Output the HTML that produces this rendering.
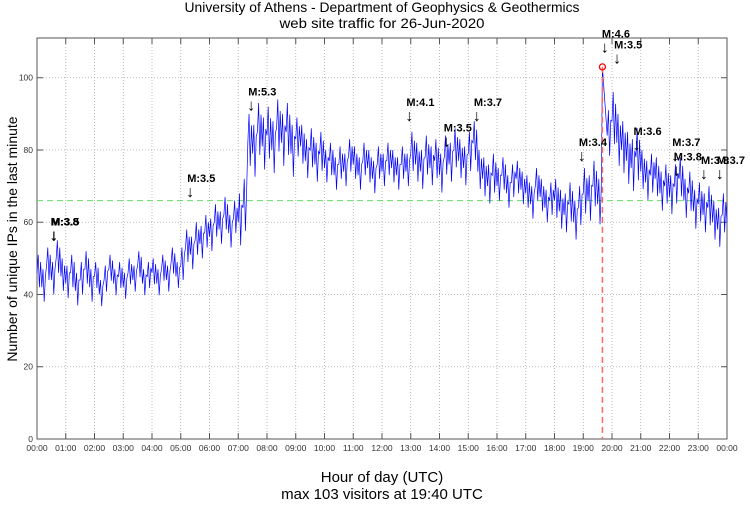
<!DOCTYPE html>
<html><head><meta charset="utf-8"><style>
html,body{margin:0;padding:0;background:#fff;}
svg text{font-family:"Liberation Sans",sans-serif;}
</style></head><body>
<svg id="chart" width="750" height="503" viewBox="0 0 750 503" xmlns="http://www.w3.org/2000/svg">
<text x="382" y="12" font-size="14" text-anchor="middle" textLength="395" lengthAdjust="spacingAndGlyphs">University of Athens - Department of Geophysics &amp; Geothermics</text>
<text x="382" y="28" font-size="14" text-anchor="middle" textLength="205" lengthAdjust="spacingAndGlyphs">web site traffic for 26-Jun-2020</text>
<text transform="translate(17,239) rotate(-90)" font-size="14" text-anchor="middle">Number of unique IPs in the last minute</text>
<text x="382" y="482" font-size="15" text-anchor="middle">Hour of day (UTC)</text>
<text x="382" y="499" font-size="15" text-anchor="middle">max 103 visitors at 19:40 UTC</text>
<g id="grid"></g><g id="axes"></g><g id="series"></g><g id="notes"></g>
</svg>
<script>
const hourLabels=["00:00","01:00","02:00","03:00","04:00","05:00","06:00","07:00","08:00","09:00","10:00","11:00","12:00","13:00","14:00","15:00","16:00","17:00","18:00","19:00","20:00","21:00","22:00","23:00","00:00"];
const yTicks=[0,20,40,60,80,100];
const traffic=[46,42,48,44,50,45, 43,46,41,44,47,42, 45,40,44,47,43,45, 42,46,44,48,43,45, 46,43,47,44,49,45,
48,53,51,55,54,57, 56,60,58,62,57,61, 60,64,82,79,85,81, 84,80,86,82,85,79, 83,81,77,80,76,79,
75,77,73,76,74,78, 76,73,77,75,72,76, 74,77,75,73,76,74, 79,76,74,78,75,77, 73,78,76,80,77,75,
79,82,74,72,70,73, 70,73,68,71,72,69, 68,65,70,67,64,66, 66,63,62,65,60,64, 68,66,70,65,103,84,
88,82,80,77,75,78, 74,71,73,72,68,70, 67,70,72,66,68,63, 65,62,64,60,58,62, 60];
const spread=[5,5,4,4,4,5,5,8,8,6,5,5,5,6,6,6,5,5,6,7,8,6,6,6,6];
const avgLevel=66;
const maxValue=103, maxHour=19+40/60;
const quakeLabels=["M:3.8","M:3.5","M:3.5","M:5.3","M:4.1","M:3.5","M:3.7","M:3.4","M:4.6","M:3.5","M:3.6","M:3.7","M:3.8","M:3.8","M:3.7"];
const quakeHours=[0.58,0.6,5.33,7.45,12.95,14.25,15.3,18.95,19.75,20.18,20.85,22.2,22.25,23.2,23.75];
const quakeLevels=[55,55,67,91,88,81,88,77,107,104,80,77,73,72,72];

const L=37,R=727,T=38,B=439,YMAX=111;
const x=h=>L+(R-L)*h/24, y=v=>B-(B-T)*v/YMAX;
const NS="http://www.w3.org/2000/svg";
function mk(tag,parent){const e=document.createElementNS(NS,tag);document.getElementById(parent).appendChild(e);return e;}
const frame=mk('rect','axes');


frame.setAttribute('x',L);frame.setAttribute('y',T);frame.setAttribute('width',R-L);frame.setAttribute('height',B-T);
frame.setAttribute('fill','none');frame.setAttribute('stroke','#555');
hourLabels.forEach((lab,i)=>{
  const gx=x(i);
  if(i>0&&i<24){const g=mk('line','grid');
  
  
  g.setAttribute('x1',gx);g.setAttribute('x2',gx);g.setAttribute('y1',T);g.setAttribute('y2',B);g.setAttribute('stroke','#aaa');g.setAttribute('stroke-dasharray','1,2');g.setAttribute('stroke-width','0.8');
  const tk=mk('line','axes');tk.setAttribute('x1',gx);tk.setAttribute('x2',gx);tk.setAttribute('y1',B);tk.setAttribute('y2',B-6);tk.setAttribute('stroke','#555');
  const tk2=mk('line','axes');tk2.setAttribute('x1',gx);tk2.setAttribute('x2',gx);tk2.setAttribute('y1',T);tk2.setAttribute('y2',T+6);tk2.setAttribute('stroke','#555');}
  const t=mk('text','axes');
  
  
  t.setAttribute('x',gx);t.setAttribute('y',B+12);t.setAttribute('font-size','8.5');t.setAttribute('text-anchor','middle');t.setAttribute('fill','#333');t.textContent=lab;
});
yTicks.forEach(v=>{
  const gy=y(v);
  if(v>0){const g=mk('line','grid');
  
  
  g.setAttribute('x1',L);g.setAttribute('x2',R);g.setAttribute('y1',gy);g.setAttribute('y2',gy);g.setAttribute('stroke','#aaa');g.setAttribute('stroke-dasharray','1,2');g.setAttribute('stroke-width','0.8');
  const tk=mk('line','axes');tk.setAttribute('x1',L);tk.setAttribute('x2',L+6);tk.setAttribute('y1',gy);tk.setAttribute('y2',gy);tk.setAttribute('stroke','#555');
  const tk2=mk('line','axes');tk2.setAttribute('x1',R);tk2.setAttribute('x2',R-6);tk2.setAttribute('y1',gy);tk2.setAttribute('y2',gy);tk2.setAttribute('stroke','#555');}
  const t=mk('text','axes');
  
  
  t.setAttribute('x',L-4);t.setAttribute('y',gy+3);t.setAttribute('font-size','8.5');t.setAttribute('text-anchor','end');t.setAttribute('fill','#333');t.textContent=v;
});
const avg=mk('line','series');


avg.setAttribute('x1',L);avg.setAttribute('x2',R);avg.setAttribute('y1',y(avgLevel));avg.setAttribute('y2',y(avgLevel));avg.setAttribute('stroke','#66dd66');avg.setAttribute('stroke-dasharray','6,4');
let pts=[];
const n=traffic.length-1;
traffic.forEach((v,i)=>{
  const h=24*i/n;
  const s=spread[Math.min(24,Math.floor(h))];
  pts.push(x(h)+','+y(v));
  if(i<n && v!==maxValue){
    const step=24/n;
    pts.push(x(h+step*0.25)+','+y(v+s));
    pts.push(x(h+step*0.5)+','+y(v-s*0.8));
    pts.push(x(h+step*0.75)+','+y(v+s*0.6));
  }
});
const line=mk('polyline','series');


line.setAttribute('points',pts.join(' '));line.setAttribute('fill','none');line.setAttribute('stroke','#0000ff');line.setAttribute('stroke-width','0.7');
const mv=mk('line','series');


mv.setAttribute('x1',x(maxHour));mv.setAttribute('x2',x(maxHour));mv.setAttribute('y1',y(maxValue));mv.setAttribute('y2',B);mv.setAttribute('stroke','#ff6666');mv.setAttribute('stroke-width','1.5');mv.setAttribute('stroke-dasharray','6,4');
const mc=mk('circle','series');


mc.setAttribute('cx',x(maxHour));mc.setAttribute('cy',y(maxValue));mc.setAttribute('r','3');mc.setAttribute('fill','none');mc.setAttribute('stroke','#ff0000');mc.setAttribute('stroke-width','1.3');
quakeLabels.forEach((lab,i)=>{
  const qx=x(quakeHours[i]), qy=y(quakeLevels[i]);
  const a=mk('text','notes');
  
  
  a.setAttribute('x',qx);a.setAttribute('y',qy);a.setAttribute('font-size','16');a.setAttribute('text-anchor','middle');a.textContent='\u2193';
  const t=mk('text','notes');
  
  
  t.setAttribute('x',qx-3);t.setAttribute('y',qy-15);t.setAttribute('font-size','11');t.setAttribute('font-weight','bold');t.textContent=lab;
});
</script>
</body></html>
